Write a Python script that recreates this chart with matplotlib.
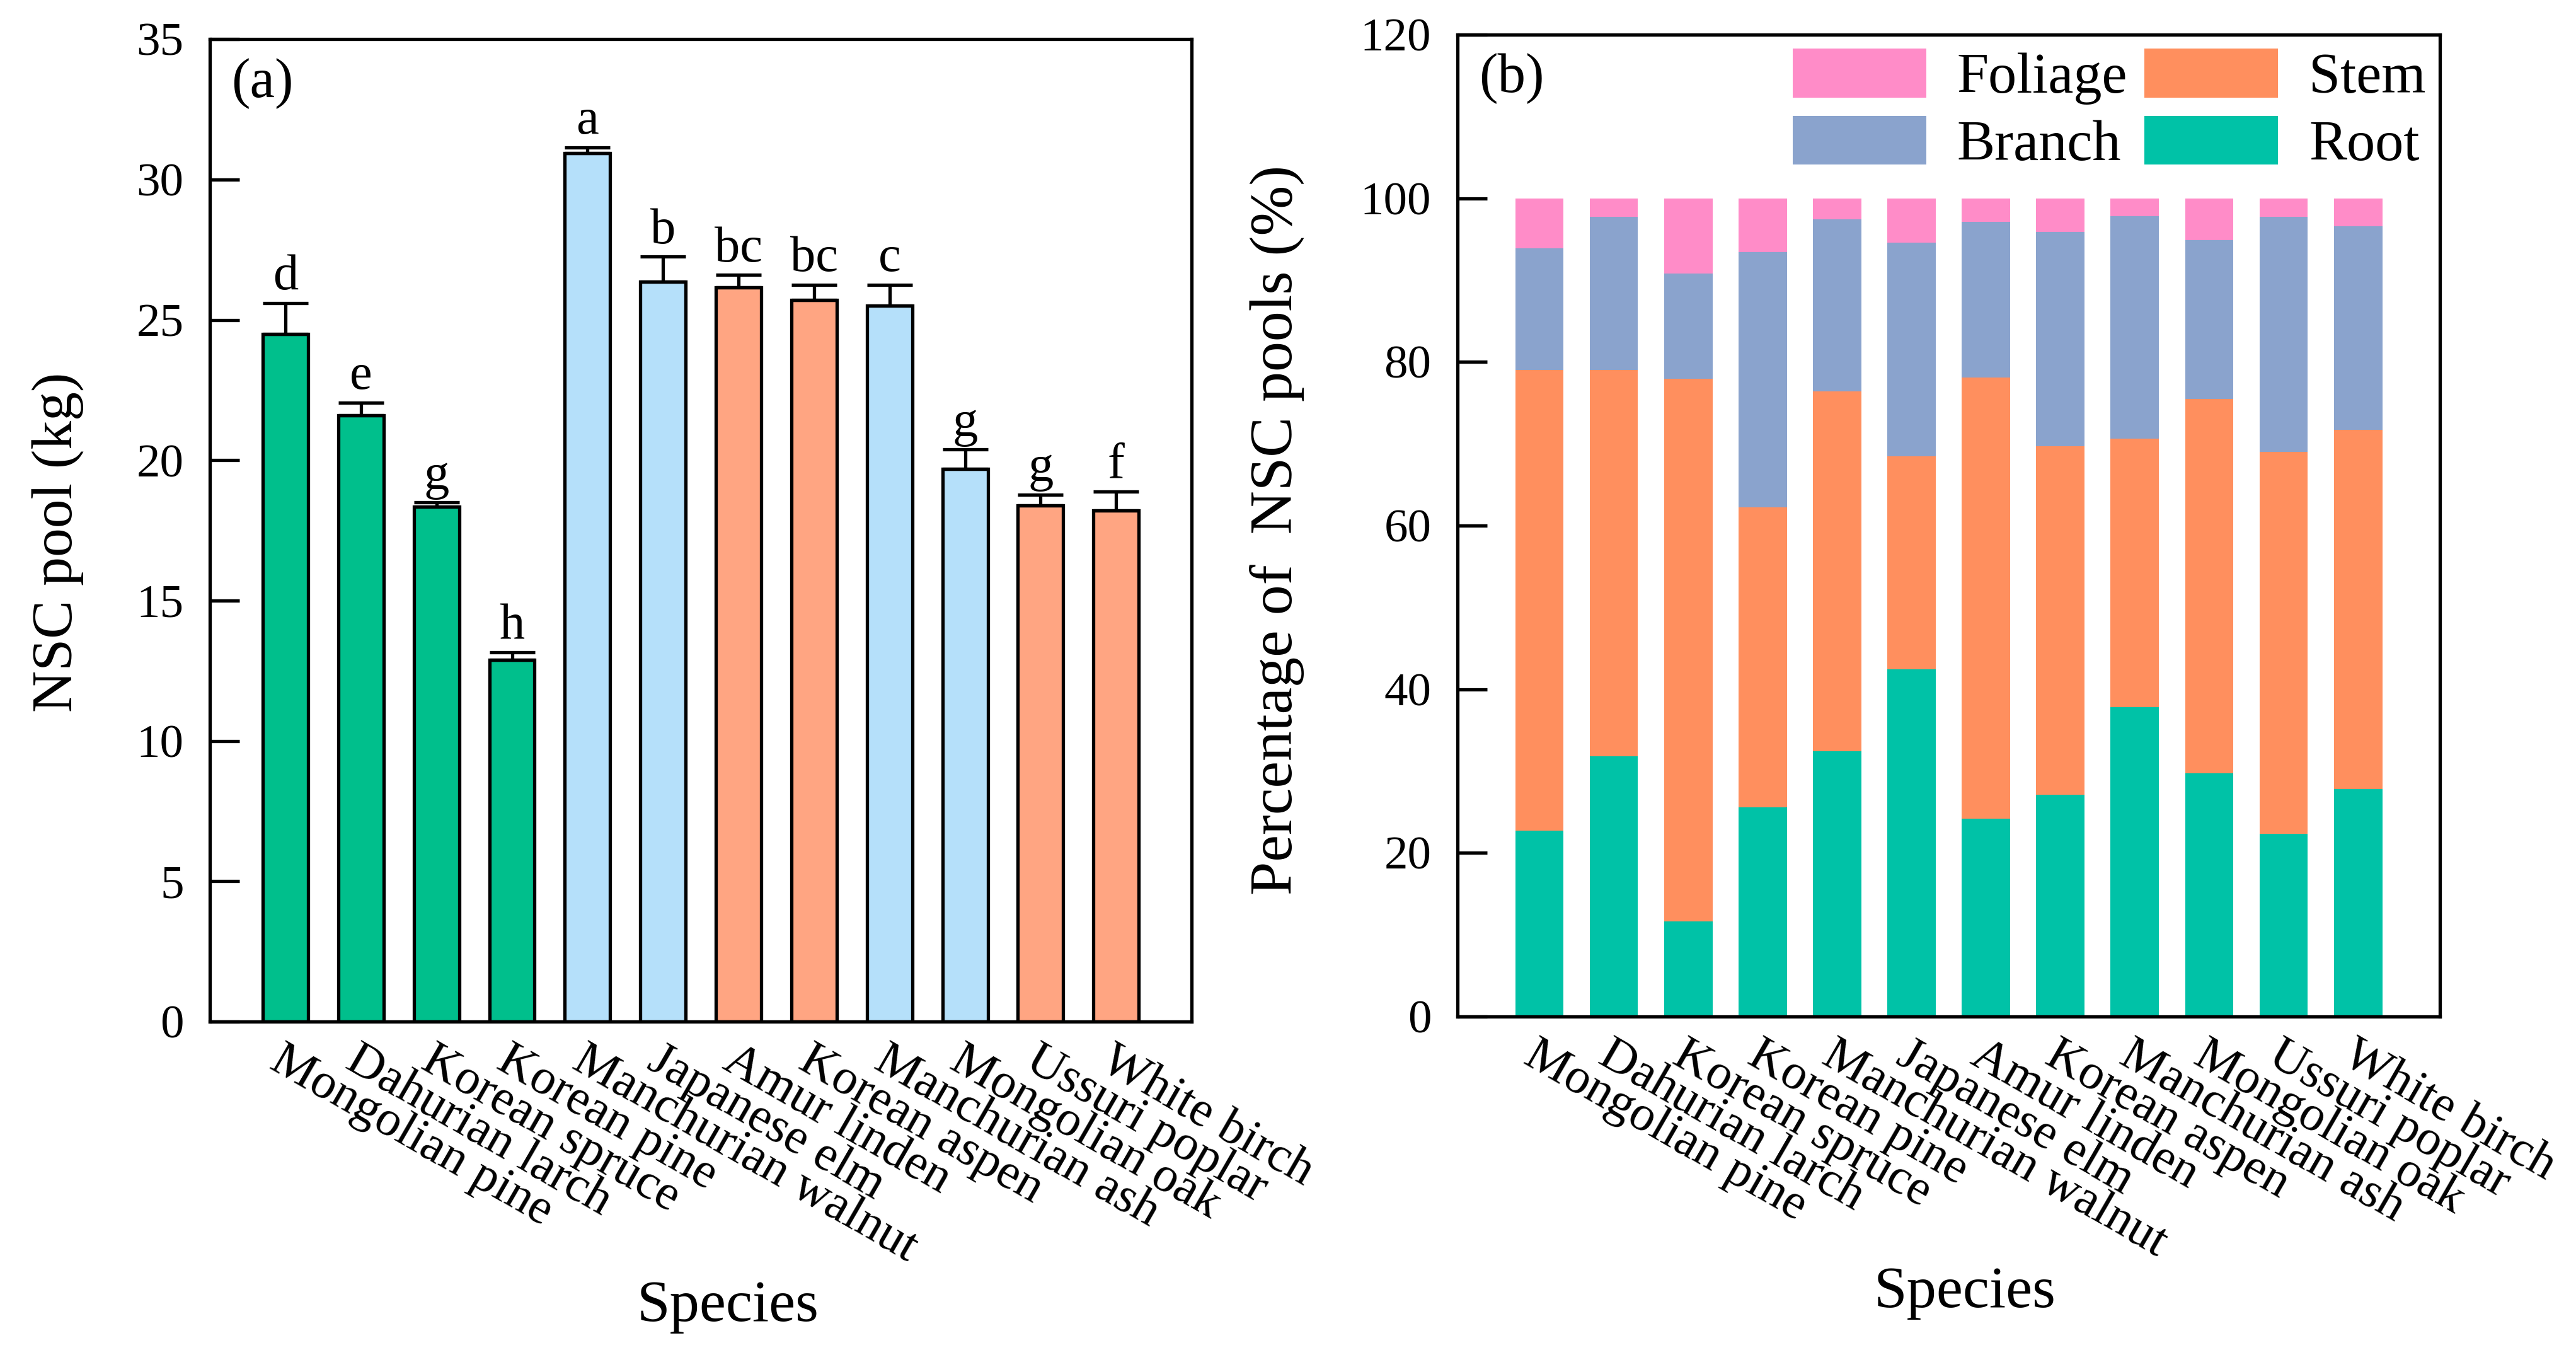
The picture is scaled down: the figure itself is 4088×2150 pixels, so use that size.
import matplotlib
matplotlib.use('Agg')
import matplotlib.pyplot as plt
import numpy as np

plt.rcParams['font.family'] = ['Liberation Serif', 'DejaVu Serif']

# 物种
species = ['Mongolian pine', 'Dahurian larch', 'Korean spruce', 'Korean pine',
           'Manchurian walnut', 'Japanese elm', 'Amur linden', 'Korean aspen',
           'Manchurian ash', 'Mongolian oak', 'Ussuri poplar', 'White birch']

# (a) NSC pool
nsc_pool = [24.5, 21.6, 18.35, 12.9, 30.95, 26.35, 26.15, 25.7, 25.5, 19.7, 18.4, 18.2]
nsc_err = [1.1, 0.45, 0.15, 0.25, 0.2, 0.9, 0.45, 0.55, 0.75, 0.68, 0.38, 0.68]
letters = ['d', 'e', 'g', 'h', 'a', 'b', 'bc', 'bc', 'c', 'g', 'g', 'f']
bar_group = ['green', 'green', 'green', 'green', 'blue', 'blue',
             'salmon', 'salmon', 'blue', 'blue', 'salmon', 'salmon']

# (b) 各器官百分比
root = [22.7, 31.8, 11.6, 25.6, 32.4, 42.4, 24.2, 27.1, 37.8, 29.7, 22.3, 27.8]
stem = [56.3, 47.2, 66.3, 36.6, 44.0, 26.1, 53.9, 42.6, 32.8, 45.8, 46.7, 43.9]
branch = [14.9, 18.7, 12.9, 31.2, 21.0, 26.1, 19.0, 26.2, 27.2, 19.4, 28.7, 24.9]
foliage = [6.1, 2.3, 9.2, 6.6, 2.6, 5.4, 2.9, 4.1, 2.2, 5.1, 2.3, 3.4]

group_color = {'green': '#00BF8C', 'blue': '#B5E0FA', 'salmon': '#FFA582'}
c_root, c_stem, c_branch, c_foliage = '#00C2A7', '#FF8F5E', '#8AA3CD', '#FF8CC8'

TICK = 54
XLAB = 57
LW = 3.8

fig = plt.figure(figsize=(40.88, 21.5), dpi=100)
ax1 = fig.add_axes([0.0815, 0.2460, 0.3811, 0.7251])
ax2 = fig.add_axes([0.5658, 0.2498, 0.3814, 0.7247])

x = np.arange(len(species))

# ---- (a)
cols = [group_color[g] for g in bar_group]
ax1.bar(x, nsc_pool, width=0.6, color=cols, edgecolor='black', linewidth=LW, zorder=2)
ax1.errorbar(x, nsc_pool, yerr=[np.zeros(len(x)), nsc_err], fmt='none', ecolor='black',
             elinewidth=LW, capsize=26, capthick=LW, zorder=3)
for i in range(len(x)):
    ax1.text(x[i], nsc_pool[i] + nsc_err[i] + 0.1, letters[i], ha='center', va='bottom',
             fontsize=58)
ax1.set_xlim(-1, 12)
ax1.set_ylim(0, 35)
ax1.set_yticks(range(0, 36, 5))
ax1.text(0.022, 0.981, '(a)', transform=ax1.transAxes, ha='left', va='top', fontsize=64)

# ---- (b)
w = 0.65
ax2.bar(x, root, width=w, color=c_root, label='Root', zorder=2)
b_stem = np.array(root)
ax2.bar(x, stem, width=w, bottom=b_stem, color=c_stem, label='Stem', zorder=2)
b_branch = b_stem + np.array(stem)
ax2.bar(x, branch, width=w, bottom=b_branch, color=c_branch, label='Branch', zorder=2)
b_fol = b_branch + np.array(branch)
ax2.bar(x, foliage, width=w, bottom=b_fol, color=c_foliage, label='Foliage', zorder=2)
ax2.set_xlim(-1.1, 12.1)
ax2.set_ylim(0, 120)
ax2.set_yticks(range(0, 121, 20))
ax2.text(0.022, 0.981, '(b)', transform=ax2.transAxes, ha='left', va='top', fontsize=64)

h, l = ax2.get_legend_handles_labels()
order = [3, 2, 1, 0]
ax2.legend([h[k] for k in order], [l[k] for k in order], ncol=2, loc='upper right',
           frameon=False, fontsize=65, handlelength=2.35, handleheight=0.94,
           handletextpad=0.54, columnspacing=0.3, labelspacing=0.2,
           borderpad=0.15, borderaxespad=0.1)

for ax in (ax1, ax2):
    for s in ax.spines.values():
        s.set_linewidth(LW)
    ax.tick_params(axis='y', direction='in', length=34, width=LW, labelsize=TICK, pad=30)
    ax.tick_params(axis='x', length=0, pad=18)
    ax.set_xticks(x)
    ax.set_xticklabels(species, rotation=-30, ha='left', va='top',
                       rotation_mode='anchor', fontsize=XLAB)

fig.text(0.0223, 0.6, 'NSC pool (kg)', rotation=90, ha='center', va='center', fontsize=66)
fig.text(0.4956, 0.609, 'Percentage of  NSC pools (%)', rotation=90, ha='center',
         va='center', fontsize=69)
fig.text(0.2825, 0.0358, 'Species', ha='center', va='center', fontsize=68)
fig.text(0.7627, 0.0456, 'Species', ha='center', va='center', fontsize=68)

fig.savefig('out.png', dpi=100)
